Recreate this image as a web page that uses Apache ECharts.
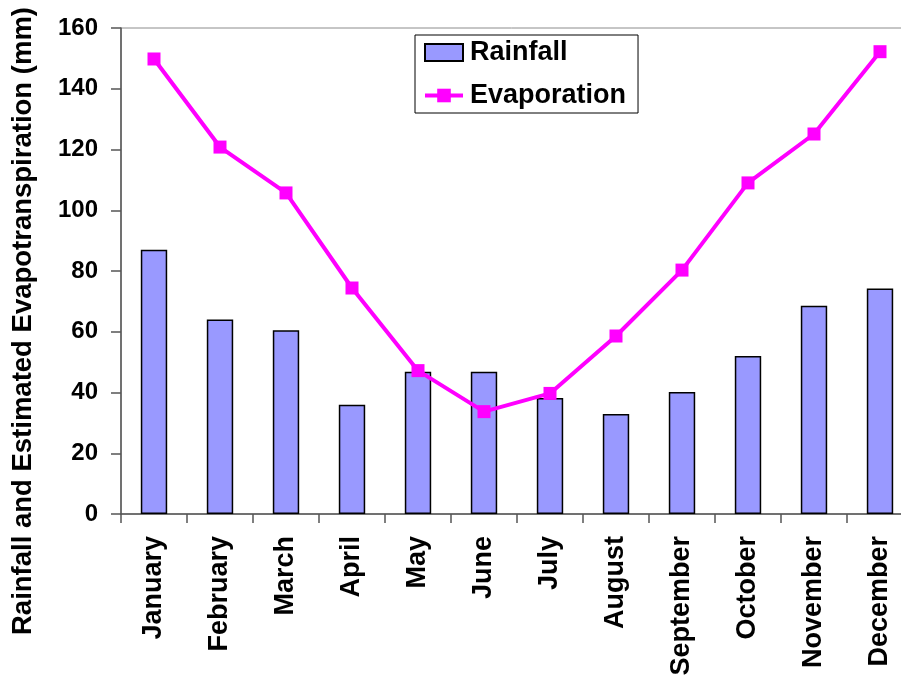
<!DOCTYPE html>
<html>
<head>
<meta charset="utf-8">
<script src="https://cdn.jsdelivr.net/npm/echarts@6/dist/echarts.min.js"></script>
<style>
  html, body { margin: 0; padding: 0; background: #ffffff; }
  #chart { width: 901px; height: 677px; }
</style>
</head>
<body>
<div id="chart"></div>
<script>
// Monthly rainfall and estimated evapotranspiration (mm)
var months = ['January', 'February', 'March', 'April', 'May', 'June',
              'July', 'August', 'September', 'October', 'November', 'December'];
var rainfall = [87, 64, 60.5, 36, 46.8, 46.8, 38.2, 32.9, 40.2, 52, 68.6, 74.2];
var evaporation = [149.8, 120.8, 105.7, 74.4, 47.2, 33.7, 39.7, 58.6, 80.3, 109, 125.1, 152.2];
var yTicks = { min: 0, max: 160, interval: 20 };
var yTitle = 'Rainfall and Estimated Evapotranspiration (mm)';

var fontFamily = 'Arial, "Liberation Sans", Helvetica, sans-serif';
var chart = echarts.init(document.getElementById('chart'), null, { renderer: 'canvas' });

chart.setOption({
  animation: false,
  backgroundColor: '#ffffff',
  grid: {
    left: 121, top: 28, width: 792, height: 486,
    outerBoundsMode: 'none',
    containLabel: false,
    show: true, borderColor: '#8c8c8c', borderWidth: 1, backgroundColor: 'transparent'
  },
  legend: {
    orient: 'vertical',
    left: 415, top: 35,
    width: 221,
    padding: [4, 12, 4, 8],
    backgroundColor: '#ffffff',
    borderColor: '#000000',
    borderWidth: 1,
    borderRadius: 0,
    itemGap: 16,
    itemWidth: 38,
    itemHeight: 17,
    textStyle: { fontFamily: fontFamily, fontWeight: 'bold', fontSize: 27, color: '#000000', padding: [0, 0, 0, 2] },
    data: [
      { name: 'Rainfall', icon: 'rect' },
      { name: 'Evaporation', lineStyle: { width: 4, color: '#ff00ff' } }
    ]
  },
  xAxis: {
    type: 'category',
    data: months,
    boundaryGap: true,
    axisLine: { lineStyle: { color: '#555555', width: 1.5 } },
    axisTick: { show: true, length: 9, inside: false, lineStyle: { color: '#555555', width: 1.5 } },
    axisLabel: {
      rotate: 90, margin: 22, interval: 0,
      fontFamily: fontFamily, fontWeight: 'bold', fontSize: 27, color: '#000000'
    }
  },
  yAxis: {
    type: 'value',
    min: yTicks.min, max: yTicks.max, interval: yTicks.interval,
    axisLine: { show: true, lineStyle: { color: '#555555', width: 1.5 } },
    axisTick: { show: true, length: 10, lineStyle: { color: '#555555', width: 1.5 } },
    splitLine: { show: false },
    axisLabel: {
      margin: 23,
      fontFamily: fontFamily, fontWeight: 'bold', fontSize: 24, color: '#000000'
    }
  },
  graphic: [{
    type: 'text',
    x: 23,
    y: 321,
    rotation: Math.PI / 2,
    style: {
      text: yTitle,
      align: 'center',
      verticalAlign: 'middle',
      fontFamily: fontFamily, fontWeight: 'bold', fontSize: 27.5, fill: '#000000'
    }
  }],
  series: [
    {
      name: 'Rainfall',
      type: 'bar',
      data: rainfall,
      barWidth: '40%',
      itemStyle: { color: '#9999ff', borderColor: '#000000', borderWidth: 1.5 }
    },
    {
      name: 'Evaporation',
      type: 'line',
      data: evaporation,
      symbol: 'rect',
      symbolSize: 13,
      z: 5,
      lineStyle: { color: '#ff00ff', width: 4 },
      itemStyle: { color: '#ff00ff' }
    }
  ]
});
</script>
</body>
</html>
